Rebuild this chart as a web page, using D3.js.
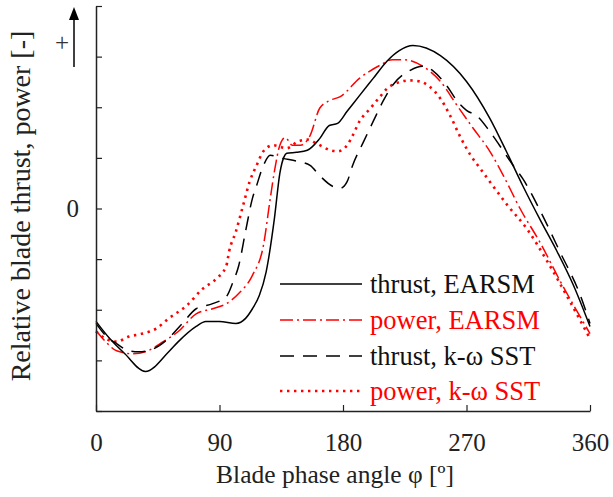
<!DOCTYPE html>
<html>
<head>
<meta charset="utf-8">
<script src="https://cdn.jsdelivr.net/npm/d3@7"></script>
<style>
    body { margin: 0; background: #fff; }
    text { font-family: "Liberation Serif", "Times New Roman", serif; }
</style>
</head>
<body>
<div class="graph"></div>
<script>
// values (angle in deg, relative value)
const thrustEarsmAngle = [0, 10, 21, 36, 53, 60, 73, 80, 90, 102, 109, 114, 119, 124, 130, 134, 137, 139, 146, 154, 163, 170, 176, 183, 192, 202, 212, 221, 231, 251, 270, 287, 299, 311, 324, 336, 348, 360];
const thrustEarsmValue = [-2.23, -2.57, -2.87, -3.22, -2.83, -2.63, -2.33, -2.23, -2.23, -2.27, -2.17, -1.98, -1.72, -1.25, -0.2, 0.7, 1.02, 1.09, 1.11, 1.15, 1.38, 1.64, 1.68, 1.92, 2.23, 2.57, 2.91, 3.12, 3.22, 3.02, 2.51, 1.78, 1.13, 0.45, -0.24, -0.85, -1.52, -2.33];

const powerEarsmAngle = [0, 7, 15, 27, 36, 49, 60, 73, 85, 95, 104, 114, 122, 127, 130, 134, 138, 143, 149, 156, 163, 170, 178, 192, 207, 216, 224, 238, 251, 263, 275, 287, 298, 309, 324, 338, 360];
const powerEarsmValue = [-2.41, -2.63, -2.81, -2.87, -2.83, -2.63, -2.43, -2.08, -1.98, -1.88, -1.68, -1.32, -0.73, 0.2, 0.73, 1.25, 1.4, 1.25, 1.25, 1.44, 1.98, 2.13, 2.21, 2.57, 2.83, 2.94, 2.94, 2.81, 2.51, 2.04, 1.58, 1.13, 0.59, 0.0, -0.69, -1.42, -2.47];

const thrustSstAngle = [0, 7, 15, 24, 31, 42, 51, 63, 73, 85, 95, 100, 104, 109, 114, 117, 122, 127, 136, 147, 156, 163, 173, 178, 183, 187, 195, 202, 209, 216, 229, 238, 246, 256, 263, 270, 278, 287, 294, 304, 311, 324, 338, 353, 360];
const thrustSstValue = [-2.27, -2.51, -2.67, -2.81, -2.83, -2.77, -2.61, -2.27, -1.98, -1.88, -1.74, -1.44, -1.13, -0.45, 0.2, 0.45, 0.85, 1.05, 0.99, 0.93, 0.85, 0.65, 0.43, 0.4, 0.53, 0.85, 1.32, 1.72, 2.11, 2.43, 2.73, 2.81, 2.71, 2.41, 2.13, 1.94, 1.82, 1.52, 1.25, 0.85, 0.59, -0.06, -0.85, -1.72, -2.27];

const powerSstAngle = [0, 7, 15, 24, 34, 44, 53, 66, 78, 88, 95, 97, 102, 107, 112, 117, 122, 129, 139, 147, 154, 161, 171, 176, 183, 187, 192, 200, 207, 214, 229, 236, 243, 251, 258, 265, 273, 280, 287, 300, 314, 329, 343, 360];
const powerSstValue = [-2.43, -2.57, -2.63, -2.53, -2.47, -2.37, -2.17, -1.92, -1.58, -1.38, -1.13, -0.85, -0.45, 0.04, 0.53, 0.85, 1.13, 1.25, 1.19, 1.32, 1.36, 1.28, 1.15, 1.13, 1.25, 1.44, 1.72, 1.98, 2.21, 2.41, 2.53, 2.51, 2.41, 2.17, 1.84, 1.44, 1.05, 0.79, 0.53, 0.06, -0.4, -1.05, -1.72, -2.57];

const xTicks = [0, 90, 180, 270, 360];
const yTicks = [-4, -3, -2, -1, 0, 1, 2, 3, 4];
const seriesNames = ['thrust, EARSM', 'power, EARSM', 'thrust, k-\u03c9 SST', 'power, k-\u03c9 SST'];

const W = 613, H = 497;
const box = { left: 96, right: 590, top: 6, bottom: 411 };

const svg = d3.select('.graph').append('svg').attr('width', W).attr('height', H);

const xScale = d3.scaleLinear().domain([0, 360]).range([box.left, box.right]);
const yScale = d3.scaleLinear().domain([-4, 4]).range([box.bottom, box.top]);

// series styles
const styles = [
    { color: '#000', width: 1.5, dash: null },
    { color: '#ff0000', width: 1.5, dash: '13,4,2,4' },
    { color: '#000', width: 1.5, dash: '14,9' },
    { color: '#ff0000', width: 2.6, dash: '2.4,4.6' }
];

const series = [
    d3.zip(thrustEarsmAngle, thrustEarsmValue),
    d3.zip(powerEarsmAngle, powerEarsmValue),
    d3.zip(thrustSstAngle, thrustSstValue),
    d3.zip(powerSstAngle, powerSstValue)
];

const line = d3.line()
    .x(d => xScale(d[0]))
    .y(d => yScale(d[1]))
    .curve(d3.curveMonotoneX);

// curves
[3, 1, 2, 0].forEach(i => {
    svg.append('path')
        .datum(series[i])
        .attr('d', line)
        .attr('fill', 'none')
        .attr('stroke', styles[i].color)
        .attr('stroke-width', styles[i].width)
        .attr('stroke-dasharray', styles[i].dash);
});

// axes
const xAxis = d3.axisBottom(xScale).tickValues(xTicks).tickSize(-6).tickSizeOuter(0).tickPadding(22);
const yAxis = d3.axisLeft(yScale).tickValues(yTicks).tickSize(-6).tickSizeOuter(0).tickPadding(17)
    .tickFormat(d => d === 0 ? '0' : '');

const gx = svg.append('g').attr('transform', `translate(0,${box.bottom})`).call(xAxis);
const gy = svg.append('g').attr('transform', `translate(${box.left},0)`).call(yAxis);

[gx, gy].forEach(g => {
    g.select('.domain').attr('stroke', '#222').attr('stroke-width', 1.5);
    g.selectAll('.tick line').attr('stroke', '#222').attr('stroke-width', 1.2);
    g.selectAll('.tick text')
        .attr('fill', '#222')
        .style('font-family', '"Liberation Serif", serif')
        .style('font-size', '25px');
});

// axis titles
svg.append('text')
    .attr('x', 335).attr('y', 483)
    .attr('text-anchor', 'middle')
    .attr('fill', '#222')
    .style('font-size', '25.5px')
    .text('Blade phase angle \u03c6 [\u00ba]');

svg.append('text')
    .attr('transform', 'translate(30,206) rotate(-90)')
    .attr('text-anchor', 'middle')
    .attr('fill', '#222')
    .style('font-size', '28px')
    .text('Relative blade thrust, power [-]');

// plus sign + arrow
svg.append('text')
    .attr('x', 62).attr('y', 51)
    .attr('text-anchor', 'middle')
    .attr('fill', '#333')
    .style('font-size', '25px')
    .text('+');

svg.append('line')
    .attr('x1', 74).attr('x2', 74)
    .attr('y1', 67).attr('y2', 18)
    .attr('stroke', '#000').attr('stroke-width', 1.5);
svg.append('path')
    .attr('d', 'M74,7 L69,20 L79,20 Z')
    .attr('fill', '#000');

// legend
const legendY = [284, 320, 356, 391];
const legend = svg.append('g');
seriesNames.forEach((name, i) => {
    legend.append('line')
        .attr('x1', 280).attr('x2', 362)
        .attr('y1', legendY[i]).attr('y2', legendY[i])
        .attr('stroke', styles[i].color)
        .attr('stroke-width', styles[i].width)
        .attr('stroke-dasharray', styles[i].dash);
    legend.append('text')
        .attr('x', 370).attr('y', legendY[i] + 9)
        .attr('fill', styles[i].color === '#000' ? '#111' : '#ff0000')
        .style('font-size', '26.5px')
        .text(name);
});
</script>
</body>
</html>
